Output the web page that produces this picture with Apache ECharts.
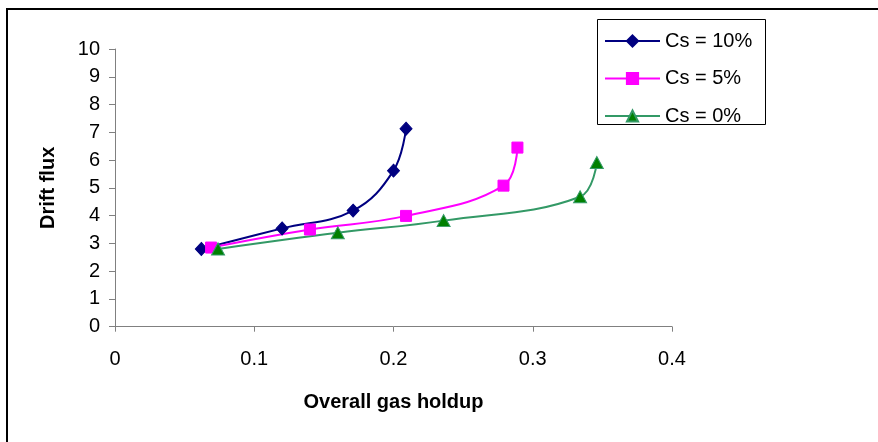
<!DOCTYPE html>
<html>
<head>
<meta charset="utf-8">
<script src="https://cdn.jsdelivr.net/npm/echarts@6/dist/echarts.min.js"></script>
<style>
html,body{margin:0;padding:0;background:#fff;}
#chart{width:878px;height:442px;}
</style>
</head>
<body>
<div id="chart"></div>
<script>
var seriesNames = ['Cs = 10%', 'Cs = 5%', 'Cs = 0%'];
var holdup10 = [0.062, 0.120, 0.171, 0.200, 0.209];
var flux10   = [2.80, 3.54, 4.18, 5.62, 7.13];
var holdup5  = [0.069, 0.140, 0.209, 0.279, 0.289];
var flux5    = [2.85, 3.50, 3.99, 5.08, 6.45];
var holdup0  = [0.074, 0.160, 0.236, 0.334, 0.346];
var flux0    = [2.80, 3.38, 3.82, 4.68, 5.91];
var xTicks = [0, 0.1, 0.2, 0.3, 0.4];
var yTicks = [0, 1, 2, 3, 4, 5, 6, 7, 8, 9, 10];

function pairs(xs, ys) {
  return xs.map(function (x, i) { return [x, ys[i]]; });
}

var FONT = 'Liberation Sans';
var chart = echarts.init(document.getElementById('chart'), null, {renderer: 'canvas'});
chart.setOption({
  animation: false,
  backgroundColor: '#ffffff',
  textStyle: {fontFamily: FONT},
  graphic: [{
    type: 'rect', z: -10, silent: true,
    shape: {x: 7, y: 9, width: 1000, height: 1000},
    style: {fill: 'none', stroke: '#000', lineWidth: 2}
  }, {
    type: 'rect', z: 100, silent: true,
    shape: {x: 597.5, y: 19.5, width: 168, height: 105},
    style: {fill: 'none', stroke: '#000', lineWidth: 1}
  }],
  grid: {left: 115, right: 206, top: 49, bottom: 115.3, containLabel: false},
  legend: {
    orient: 'vertical', left: 597, top: 31,
    padding: [0, 14, 0, 7],
    itemWidth: 55, itemHeight: 14, itemGap: 17.5,
    textStyle: {fontFamily: FONT, fontSize: 20, color: '#000', lineHeight: 20},
    data: seriesNames
  },
  xAxis: {
    type: 'value', min: xTicks[0], max: xTicks[xTicks.length - 1], interval: 0.1,
    name: 'Overall gas holdup', nameLocation: 'middle', nameGap: 66,
    nameTextStyle: {fontFamily: FONT, fontSize: 20, fontWeight: 'bold', color: '#000'},
    axisLine: {show: true, onZero: false, lineStyle: {color: '#808080', width: 1}},
    axisTick: {show: true, length: 5, inside: false, lineStyle: {color: '#808080'}},
    splitLine: {show: false},
    axisLabel: {fontFamily: FONT, fontSize: 20, color: '#000', margin: 23,
      formatter: function (v) { return String(+v.toFixed(1)); }}
  },
  yAxis: {
    type: 'value', min: yTicks[0], max: yTicks[yTicks.length - 1], interval: 1,
    name: 'Drift flux', nameLocation: 'middle', nameGap: 57,
    nameTextStyle: {fontFamily: FONT, fontSize: 20, fontWeight: 'bold', color: '#000'},
    axisLine: {show: true, lineStyle: {color: '#808080', width: 1}},
    axisTick: {show: true, length: 6, inside: false, lineStyle: {color: '#808080'}},
    splitLine: {show: false},
    axisLabel: {fontFamily: FONT, fontSize: 20, color: '#000', margin: 15}
  },
  series: [
    {
      name: seriesNames[0], type: 'line', smooth: 0.4,
      data: pairs(holdup10, flux10),
      symbol: 'diamond', symbolSize: [12, 13],
      lineStyle: {color: '#000080', width: 2},
      itemStyle: {color: '#000080', borderColor: '#000080', borderWidth: 1}
    },
    {
      name: seriesNames[1], type: 'line', smooth: 0.4,
      data: pairs(holdup5, flux5),
      symbol: 'rect', symbolSize: 11,
      lineStyle: {color: '#FF00FF', width: 2},
      itemStyle: {color: '#FF00FF', borderColor: '#FF00FF', borderWidth: 1}
    },
    {
      name: seriesNames[2], type: 'line', smooth: 0.4,
      data: pairs(holdup0, flux0),
      symbol: 'triangle', symbolSize: [13, 12],
      lineStyle: {color: '#339966', width: 2},
      itemStyle: {color: '#008000', borderColor: '#339966', borderWidth: 1}
    }
  ]
});
</script>
</body>
</html>
